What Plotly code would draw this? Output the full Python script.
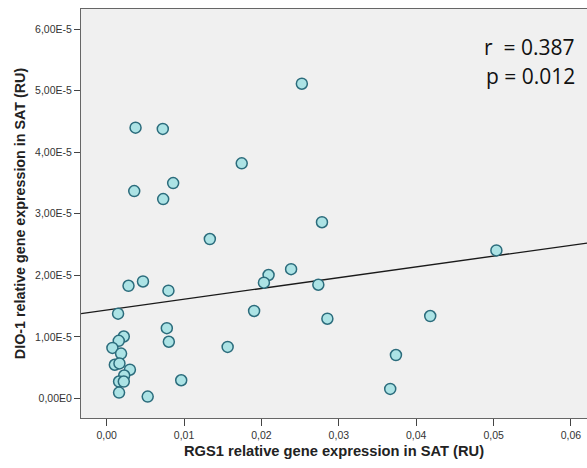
import plotly.graph_objects as go

# RGS1 relative gene expression in SAT (RU)
rgs1 = [0.02522, 0.00373, 0.00725, 0.01745, 0.00859, 0.00356, 0.00730,
        0.02782, 0.01333, 0.05036, 0.02383, 0.02092, 0.02032, 0.02735,
        0.00469, 0.00282, 0.00798, 0.00147, 0.01905, 0.04181, 0.02852,
        0.00777, 0.00221, 0.00156, 0.00074, 0.00803, 0.01563, 0.00186,
        0.03738, 0.00105, 0.00165, 0.00300, 0.00226, 0.00160, 0.00221,
        0.00963, 0.03664, 0.00160, 0.00530]
# DIO-1 relative gene expression in SAT (RU)
dio1 = [5.115e-5, 4.40e-5, 4.38e-5, 3.82e-5, 3.50e-5, 3.37e-5, 3.24e-5,
        2.863e-5, 2.59e-5, 2.405e-5, 2.10e-5, 2.005e-5, 1.88e-5, 1.847e-5,
        1.90e-5, 1.83e-5, 1.75e-5, 1.377e-5, 1.42e-5, 1.338e-5, 1.294e-5,
        1.14e-5, 1.005e-5, 0.935e-5, 0.82e-5, 0.92e-5, 0.836e-5, 0.727e-5,
        0.704e-5, 0.546e-5, 0.567e-5, 0.465e-5, 0.371e-5, 0.273e-5, 0.273e-5,
        0.294e-5, 0.153e-5, 0.093e-5, 0.028e-5]

# fit line endpoints
fit_x = [-0.00331, 0.06207]
fit_y = [1.377e-5, 2.525e-5]

x_tickvals = [0.00, 0.01, 0.02, 0.03, 0.04, 0.05, 0.06]
x_ticktext = ["0,00", "0,01", "0,02", "0,03", "0,04", "0,05", "0,06"]
y_tickvals = [0, 1e-5, 2e-5, 3e-5, 4e-5, 5e-5, 6e-5]
y_ticktext = ["0,00E0", "1,00E-5", "2,00E-5", "3,00E-5", "4,00E-5", "5,00E-5", "6,00E-5"]

stats_text = ["r  = 0.387", "p = 0.012"]

L, T, B = 81, 9, 50

fig = go.Figure()
fig.add_trace(go.Scatter(
    x=fit_x, y=fit_y, mode="lines",
    line=dict(color="#1a1a1a", width=1.3), hoverinfo="skip", showlegend=False))
fig.add_trace(go.Scatter(
    x=rgs1, y=dio1, mode="markers",
    marker=dict(size=11, color="#ace3e5", line=dict(color="#2b6c7c", width=1.5)),
    showlegend=False))

fig.update_layout(
    width=587, height=468,
    margin=dict(l=L, r=0, t=T, b=B),
    paper_bgcolor="white", plot_bgcolor="#f0f0f0",
    font=dict(family="Liberation Sans, Arial, sans-serif", color="#222"),
    xaxis=dict(
        range=[-0.00332, 0.06207], tickvals=x_tickvals, ticktext=x_ticktext,
        showgrid=False, zeroline=False, showline=True, linecolor="#666",
        linewidth=1, mirror=True, ticks="outside", ticklen=7, tickcolor="#444",
        tickfont=dict(size=10.5, color="#333"),
        title=dict(text="<b>RGS1 relative gene expression in SAT (RU)</b>",
                   font=dict(size=14.7, color="#222"), standoff=6)),
    yaxis=dict(
        range=[-0.32e-5, 6.33e-5], tickvals=y_tickvals, ticktext=y_ticktext,
        showgrid=False, zeroline=False, showline=True, linecolor="#666",
        linewidth=1, ticks="outside", ticklen=6, tickcolor="#444",
        tickfont=dict(size=10.5, color="#333"),
        title=dict(text="<b>DIO-1 relative gene expression in SAT (RU)</b>",
                   font=dict(size=14.3, color="#222"), standoff=6)),
)

pw, ph = 587 - L, 468 - T - B
for i, t in enumerate(stats_text):
    fig.add_annotation(
        x=(577 - L) / pw, y=1 - (47 + 29.5 * i - T) / ph,
        xref="paper", yref="paper", text=t, showarrow=False,
        xanchor="right", yanchor="middle",
        font=dict(family="Open Sans, sans-serif", size=21, color="#111"))

fig.write_html("out.html")
